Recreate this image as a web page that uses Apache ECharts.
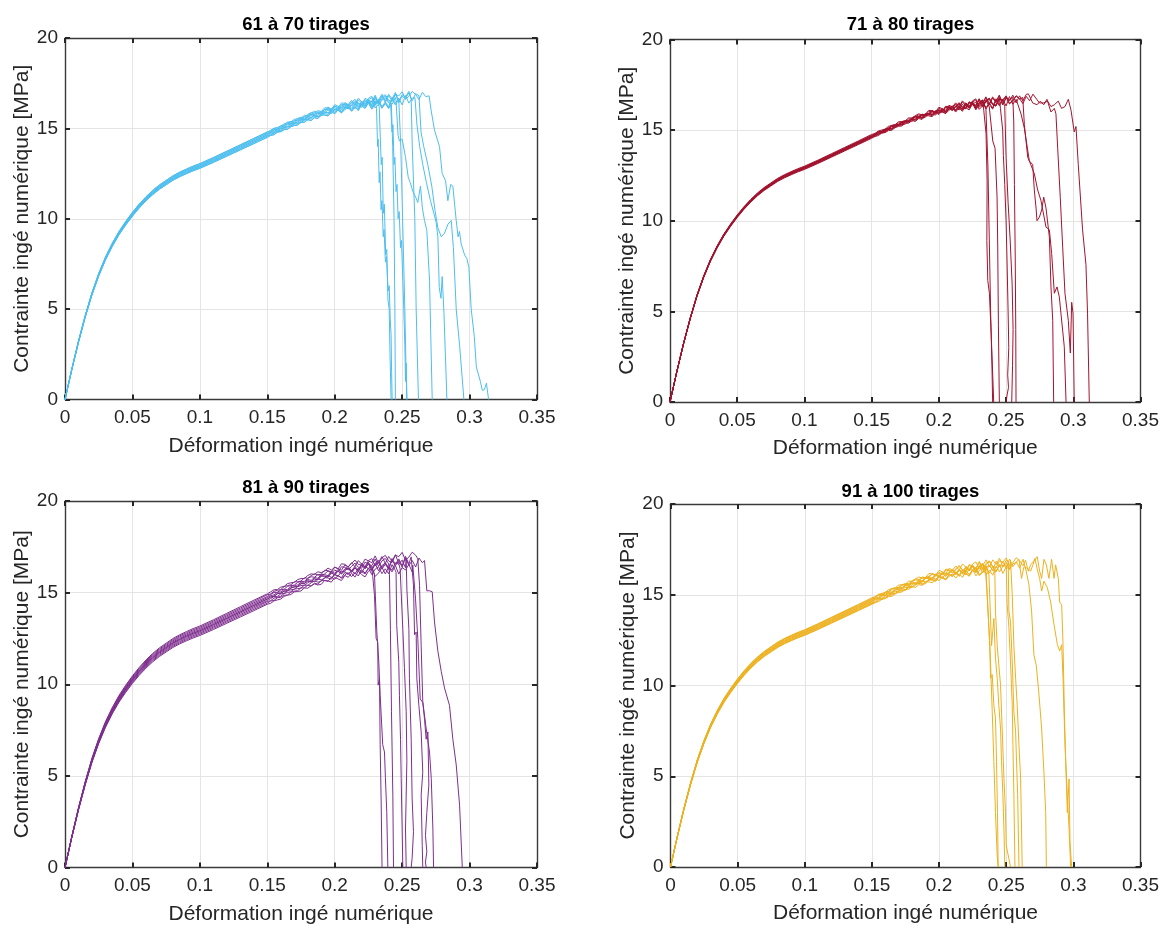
<!DOCTYPE html>
<html>
<head>
<meta charset="utf-8">
<title>Courbes contrainte-déformation</title>
<script src="https://cdn.jsdelivr.net/npm/echarts@6.0.0/dist/echarts.min.js"></script>
<style>
  html, body { margin: 0; padding: 0; background: #fff; }
  #chart { width: 1162px; height: 926px; }
</style>
</head>
<body>
<div id="chart"></div>
<script>
// axis ticks
const strainTicks = [0, 0.05, 0.1, 0.15, 0.2, 0.25, 0.3, 0.35]
const stressTicks = [0, 5, 10, 15, 20]

const panelTitles = ['61 à 70 tirages', '71 à 80 tirages', '81 à 90 tirages', '91 à 100 tirages']
const panelColors = ['#4DBEEE', '#A2142F', '#7E2F8E', '#EDB120']

// common rising part
const baseStrain = [0, 0.005, 0.01, 0.015, 0.02, 0.025, 0.03, 0.035, 0.04, 0.045, 0.05, 0.055, 0.06, 0.065, 0.07, 0.075, 0.08, 0.085, 0.09, 0.095, 0.1, 0.11, 0.12, 0.13, 0.14]
const baseStress = [0, 1.65, 3.2, 4.6, 5.85, 6.9, 7.8, 8.55, 9.2, 9.75, 10.25, 10.7, 11.1, 11.45, 11.75, 12.0, 12.25, 12.45, 12.62, 12.78, 12.92, 13.25, 13.6, 13.95, 14.3]

// plateau: mean trace + three read-off noise traces
const plateauStrain = [0.15, 0.1525, 0.155, 0.1575, 0.16, 0.1625, 0.165, 0.1675, 0.17, 0.1725, 0.175, 0.1775, 0.18, 0.1825, 0.185, 0.1875, 0.19, 0.1925, 0.195, 0.1975, 0.2, 0.2025, 0.205, 0.2075, 0.21, 0.2125, 0.215, 0.2175, 0.22, 0.2225, 0.225, 0.2275, 0.23, 0.2325, 0.235, 0.2375, 0.24, 0.2425, 0.245, 0.2475, 0.25, 0.2525, 0.255, 0.2575, 0.26, 0.2625, 0.265, 0.2675, 0.27, 0.2725, 0.275, 0.2775, 0.28, 0.2825, 0.285, 0.2875, 0.29, 0.2925, 0.295, 0.2975, 0.3]
const plateauStress = [14.65, 14.73, 14.82, 14.90, 14.98, 15.06, 15.14, 15.22, 15.30, 15.37, 15.44, 15.51, 15.58, 15.64, 15.71, 15.77, 15.83, 15.88, 15.93, 15.98, 16.03, 16.07, 16.12, 16.16, 16.20, 16.23, 16.27, 16.30, 16.33, 16.36, 16.38, 16.41, 16.43, 16.45, 16.48, 16.50, 16.52, 16.54, 16.56, 16.58, 16.60, 16.62, 16.63, 16.65, 16.66, 16.67, 16.68, 16.69, 16.70, 16.71, 16.71, 16.72, 16.72, 16.73, 16.73, 16.73, 16.73, 16.74, 16.74, 16.74, 16.74]
const noiseA = [0, 0.03, -0.02, 0.04, -0.01, 0.02, -0.04, 0.03, 0.01, -0.03, 0.05, -0.02, 0.06, -0.05, 0.04, -0.07, 0.08, 0.02, -0.08, 0.10, -0.06, 0.12, -0.10, 0.05, 0.14, -0.12, 0.08, -0.15, 0.18, -0.05, 0.20, -0.18, 0.10, 0.22, -0.20, 0.05, -0.25, 0.24, -0.10, 0.18, -0.22, 0.28, -0.15, 0.10, -0.26, 0.22, -0.05, 0.25, -0.20, 0.15, -0.18, 0.20, -0.10, 0.22, -0.20, 0.12, -0.15, 0.20, -0.18, 0.10, -0.12]
const noiseB = [0.01, -0.02, 0.03, 0, -0.03, 0.04, 0.02, -0.02, 0.05, 0, -0.04, 0.06, -0.03, 0.05, 0.08, -0.04, -0.06, 0.10, 0.03, -0.09, 0.12, 0, -0.14, 0.10, -0.04, 0.16, -0.10, 0.20, -0.02, -0.18, 0.12, 0.20, -0.22, -0.05, 0.24, -0.15, 0.20, -0.08, 0.26, -0.24, 0.10, -0.05, 0.25, -0.20, 0.18, -0.10, 0.24, -0.22, 0.08, -0.18, 0.22, -0.05, 0.18, -0.20, 0.10, 0.20, -0.10, -0.20, 0.15, -0.05, 0.12]
const noiseC = [-0.01, 0.02, 0.04, -0.03, 0.02, -0.02, 0.05, 0.01, -0.04, 0.03, 0.02, -0.05, 0.04, 0.07, -0.03, 0.05, -0.05, -0.02, 0.09, -0.07, 0.04, -0.10, 0.13, 0.06, -0.12, 0.03, 0.18, -0.08, -0.16, 0.14, 0.02, -0.10, 0.24, -0.18, 0.08, 0.20, -0.12, -0.22, 0.15, 0.05, 0.26, -0.18, -0.02, 0.22, 0.05, -0.24, 0.15, -0.10, 0.25, -0.05, 0.10, -0.22, 0.20, 0.05, -0.15, -0.05, 0.22, 0, -0.20, 0.18, -0.10]

// per-curve spread of each panel
const k61 = [1.0, 0.995, 1.005, 0.99, 1.01, 1.0, 0.995, 1.005, 1.01, 0.99]
const k71 = [1.0, 0.996, 1.004, 0.993, 1.007, 1.0, 0.997, 1.003, 1.002, 0.998]
const k81 = [1.0, 0.99, 1.01, 0.985, 1.015, 0.995, 1.005, 0.98, 1.02, 1.0]
const k91 = [1.0, 0.993, 1.007, 0.988, 1.012, 0.996, 1.004, 0.99, 1.01, 1.0]

// failure parts [strain, stress]
const tails61 = [
  [[0.2310,16.1],[0.2318,14.0],[0.2322,14.4],[0.2330,12.0],[0.2336,12.6],[0.2344,10.5],[0.2350,11.0],[0.2360,9.0],[0.2366,9.4],[0.2376,7.6],[0.2384,7.9],[0.2396,6.0],[0.2404,6.3],[0.2412,4.4],[0.2418,3.6],[0.2422,1.5],[0.2426,0]],
  [[0.2330,16.2],[0.2345,13.0],[0.2352,13.4],[0.2360,10.3],[0.2368,10.8],[0.2378,8.0],[0.2386,8.3],[0.2395,5.5],[0.2404,5.0],[0.2410,2.5],[0.2418,0]],
  [[0.2420,16.4],[0.2430,14.0],[0.2440,10.0],[0.2446,5.0],[0.2450,0]],
  [[0.2415,16.3],[0.2425,14.8],[0.2432,15.2],[0.2440,13.0],[0.2446,13.4],[0.2455,11.5],[0.2462,11.9],[0.2470,10.0],[0.2478,10.4],[0.2488,8.4],[0.2495,8.8],[0.2505,6.6],[0.2512,5.0],[0.2520,3.0],[0.2525,1.0],[0.2530,2.0],[0.2535,0]],
  [[0.2567,16.6],[0.2575,14.0],[0.2594,10.0],[0.2604,5.0],[0.2621,0]],
  [[0.2455,16.5],[0.2470,14.6],[0.2480,14.3],[0.2500,14.4],[0.2525,13.4],[0.2545,12.3],[0.2560,12.0],[0.2580,11.5],[0.2600,11.2],[0.2616,10.9],[0.2636,11.8],[0.2650,10.6],[0.2666,9.9],[0.2683,9.35],[0.2703,6.6],[0.2723,0]],
  [[0.2595,16.7],[0.2610,15.2],[0.2630,14.0],[0.2653,13.0],[0.2680,12.0],[0.2710,11.0],[0.2735,10.3],[0.2752,9.8],[0.2765,9.0],[0.2775,6.2],[0.2788,5.6],[0.2797,6.8],[0.2810,4.8],[0.2832,0]],
  [[0.2625,16.8],[0.2640,14.8],[0.2660,14.0],[0.2690,13.0],[0.2720,11.8],[0.2745,10.4],[0.2765,9.5],[0.2790,9.0],[0.2814,9.2],[0.2840,9.7],[0.2864,9.9],[0.2880,8.4],[0.2901,5.0],[0.2926,3.0],[0.2958,0]],
  [[0.2700,16.8],[0.2715,16.0],[0.2740,14.9],[0.2777,14.0],[0.2797,12.5],[0.2822,12.1],[0.2839,11.0],[0.2850,10.9],[0.2860,11.9],[0.2876,11.8],[0.2901,9.9],[0.2915,9.0],[0.2925,9.3],[0.2938,8.6],[0.2963,8.0],[0.2980,7.8],[0.2995,7.3],[0.3012,5.0],[0.3035,3.5],[0.3050,1.8],[0.3080,1.0],[0.3095,0.5],[0.3110,0.55],[0.3125,0.9],[0.3141,0]],
  [[0.2478,16.6],[0.2490,14.0],[0.2500,11.0],[0.2510,8.0],[0.2520,5.0],[0.2528,2.0],[0.2535,0]]
]
const tails71 = [
  [[0.2334,16.1],[0.2351,14.8],[0.2359,12.2],[0.2357,8.9],[0.2364,6.7],[0.2376,6.0],[0.2389,3.8],[0.2408,0]],
  [[0.2384,16.2],[0.2401,14.4],[0.2418,14.0],[0.2433,11.3],[0.2438,8.55],[0.2443,4.2],[0.2450,0]],
  [[0.2458,16.2],[0.2475,15.0],[0.2480,13.6],[0.2490,12.0],[0.2500,10.0],[0.2508,7.5],[0.2515,5.0],[0.2520,3.0],[0.2512,1.5],[0.2518,0.8],[0.2508,0.4],[0.2500,0]],
  [[0.2490,16.3],[0.2500,13.5],[0.2515,11.0],[0.2530,9.0],[0.2545,6.5],[0.2552,4.0],[0.2548,2.0],[0.2542,0]],
  [[0.2550,16.8],[0.2557,15.5],[0.2562,12.0],[0.2568,8.0],[0.2572,4.0],[0.2574,0]],
  [[0.2624,16.8],[0.2636,15.3],[0.2661,13.5],[0.2673,13.3],[0.2698,13.1],[0.2710,11.7],[0.2723,10.7],[0.2730,10.0],[0.2748,10.2],[0.2765,10.6],[0.2780,11.3],[0.2797,10.7],[0.2822,9.1],[0.2834,6.35],[0.2847,4.5],[0.2854,0]],
  [[0.2587,16.6],[0.2611,15.9],[0.2636,15.1],[0.2673,13.3],[0.2710,12.6],[0.2735,11.7],[0.2760,11.1],[0.2797,9.65],[0.2822,9.5],[0.2839,8.2],[0.2859,6.0],[0.2879,6.35],[0.2896,5.8],[0.2908,4.9],[0.2933,3.05],[0.2946,0]],
  [[0.2666,17.0],[0.2698,16.5],[0.2730,16.4],[0.2755,16.6],[0.2780,16.4],[0.2804,16.7],[0.2834,16.0],[0.2859,16.2],[0.2871,15.9],[0.2884,14.0],[0.2903,11.3],[0.2921,8.55],[0.2938,6.0],[0.2963,4.5],[0.2978,2.7],[0.2988,5.5],[0.2998,4.9],[0.3007,0]],
  [[0.2710,16.9],[0.2748,16.5],[0.2780,16.5],[0.2809,16.6],[0.2834,16.3],[0.2859,16.4],[0.2888,16.6],[0.2913,16.2],[0.2938,16.3],[0.2963,16.7],[0.2983,16.1],[0.3007,14.9],[0.3020,15.2],[0.3037,13.1],[0.3069,9.5],[0.3094,7.6],[0.3106,4.9],[0.3119,0]],
  [[0.2350,16.2],[0.2365,13.0],[0.2375,9.0],[0.2385,5.0],[0.2395,2.0],[0.2400,0]]
]
const tails81 = [
  [[0.2282,15.9],[0.2295,14.85],[0.2307,12.5],[0.2319,12.3],[0.2322,9.95],[0.2332,10.3],[0.2337,6.7],[0.2344,3.8],[0.2351,0]],
  [[0.2295,16.0],[0.2312,12.9],[0.2327,11.2],[0.2337,9.4],[0.2356,6.7],[0.2369,6.3],[0.2376,4.9],[0.2386,3.0],[0.2394,0]],
  [[0.2406,16.0],[0.2413,13.0],[0.2421,8.5],[0.2431,3.95],[0.2436,0]],
  [[0.2455,16.1],[0.2460,13.2],[0.2475,11.2],[0.2480,9.4],[0.2488,7.0],[0.2493,4.85],[0.2500,2.1],[0.2505,0]],
  [[0.2485,16.3],[0.2505,13.0],[0.2517,10.9],[0.2530,8.5],[0.2535,5.8],[0.2525,2.1],[0.2530,0]],
  [[0.2530,16.85],[0.2535,15.2],[0.2550,13.0],[0.2554,10.3],[0.2567,7.0],[0.2574,3.8],[0.2584,1.95],[0.2574,0.5],[0.2567,0]],
  [[0.2567,16.95],[0.2584,15.4],[0.2592,12.7],[0.2604,12.85],[0.2609,10.3],[0.2624,8.85],[0.2641,7.4],[0.2653,5.2],[0.2641,3.95],[0.2649,1.2],[0.2653,0]],
  [[0.2579,16.5],[0.2599,14.7],[0.2616,12.5],[0.2634,9.2],[0.2653,9.0],[0.2666,8.1],[0.2678,7.0],[0.2691,7.4],[0.2698,4.5],[0.2683,3.0],[0.2673,1.75],[0.2683,0.85],[0.2673,0.3],[0.2678,0]],
  [[0.2616,16.85],[0.2629,15.4],[0.2641,12.1],[0.2653,9.05],[0.2678,7.6],[0.2703,6.3],[0.2716,4.85],[0.2728,2.1],[0.2733,0]],
  [[0.2666,16.75],[0.2683,15.1],[0.2703,15.1],[0.2723,15.05],[0.2740,13.4],[0.2765,11.8],[0.2790,10.7],[0.2814,9.8],[0.2851,8.85],[0.2876,7.0],[0.2901,5.6],[0.2926,3.4],[0.2946,0]]
]
const tails91 = [
  [[0.2351,16.1],[0.2366,13.9],[0.2378,12.2],[0.2383,10.4],[0.2396,10.6],[0.2408,8.9],[0.2420,8.2],[0.2428,5.8],[0.2435,3.0],[0.2440,0]],
  [[0.2371,16.1],[0.2391,12.2],[0.2408,13.7],[0.2420,11.5],[0.2433,10.4],[0.2445,8.9],[0.2458,7.6],[0.2465,5.8],[0.2475,4.0],[0.2483,2.1],[0.2490,0]],
  [[0.2415,16.3],[0.2420,14.1],[0.2433,12.2],[0.2458,10.0],[0.2470,7.6],[0.2483,4.9],[0.2495,3.0],[0.2500,1.2],[0.2520,0.45],[0.2532,0]],
  [[0.2500,16.65],[0.2507,14.45],[0.2520,13.2],[0.2532,11.3],[0.2545,8.9],[0.2550,6.7],[0.2557,4.0],[0.2565,0]],
  [[0.2515,16.85],[0.2520,14.1],[0.2532,13.5],[0.2545,11.3],[0.2557,8.55],[0.2570,7.45],[0.2577,5.8],[0.2585,4.0],[0.2595,0]],
  [[0.2532,16.9],[0.2545,15.0],[0.2557,12.2],[0.2570,10.4],[0.2582,8.9],[0.2595,6.7],[0.2607,4.9],[0.2614,2.1],[0.2619,0]],
  [[0.2632,16.9],[0.2649,16.3],[0.2669,15.55],[0.2689,14.1],[0.2706,11.7],[0.2724,11.1],[0.2744,9.5],[0.2764,7.6],[0.2781,5.2],[0.2794,3.0],[0.2799,0]],
  [[0.2570,16.75],[0.2595,16.95],[0.2614,15.9],[0.2632,16.55],[0.2657,16.45],[0.2682,16.3],[0.2699,16.65],[0.2714,17.0],[0.2731,16.4],[0.2749,15.9],[0.2764,15.2],[0.2781,15.75],[0.2806,15.4],[0.2831,14.6],[0.2856,13.35],[0.2881,12.25],[0.2898,11.9],[0.2913,12.25],[0.2923,10.4],[0.2938,6.7],[0.2955,3.95],[0.2968,2.1],[0.2980,0]],
  [[0.2644,16.9],[0.2664,16.3],[0.2682,16.65],[0.2706,16.85],[0.2731,17.1],[0.2749,16.3],[0.2764,15.9],[0.2781,16.95],[0.2799,16.65],[0.2818,15.9],[0.2838,16.95],[0.2856,15.9],[0.2868,16.65],[0.2881,16.65],[0.2888,15.9],[0.2898,14.6],[0.2913,14.45],[0.2923,12.25],[0.2933,8.55],[0.2943,5.8],[0.2955,3.0],[0.2968,4.85],[0.2975,1.4],[0.2987,0]],
  [[0.2346,16.3],[0.2358,15.0],[0.2371,13.15],[0.2383,11.3],[0.2396,8.55],[0.2408,5.8],[0.2420,3.0],[0.2433,0.6],[0.2440,0]]
]

const panelScales = [k61, k71, k81, k91]
const panelTails = [tails61, tails71, tails81, tails91]
const noiseTraces = [noiseA, noiseB, noiseC]

// grid boxes in px (left, top, width, height)
const boxes = [
  [65, 38, 472, 361.5],
  [670, 39.5, 471, 362.5],
  [65, 501, 472, 366.5],
  [670.5, 504, 470, 363]
]
const titleTops = [10, 10, 473, 477]

const ink = '#262626'
const font = "'Liberation Sans', Arial, Helvetica, sans-serif"

function buildCurve(k, noise, tail) {
  const cut = tail[0][0]
  const pts = []
  baseStrain.forEach((x, j) => pts.push([x, baseStress[j] * k]))
  plateauStrain.forEach((x, j) => {
    if (x < cut) pts.push([x, (plateauStress[j] + noise[j]) * k])
  })
  return pts.concat(tail)
}

const grid = []
const xAxis = []
const yAxis = []
const title = []
const series = []

const boxLine = { show: true, onZero: false, lineStyle: { color: '#3a3a3a', width: 1.4 } }
const inTicks = { show: true, inside: true, length: 5, lineStyle: { color: ink, width: 2 } }

boxes.forEach((b, g) => {
  grid.push({ left: b[0], top: b[1], width: b[2], height: b[3], show: false })
  title.push({
    text: panelTitles[g],
    left: b[0] + b[2] / 2,
    top: titleTops[g],
    textAlign: 'center',
    textStyle: { fontFamily: font, fontSize: 18.5, fontWeight: 'bold', color: '#000' }
  })
  const xBase = {
    type: 'value', gridIndex: g,
    min: strainTicks[0], max: strainTicks[strainTicks.length - 1], interval: 0.05
  }
  const yBase = {
    type: 'value', gridIndex: g,
    min: stressTicks[0], max: stressTicks[stressTicks.length - 1], interval: 5
  }
  xAxis.push(Object.assign({}, xBase, {
    position: 'bottom',
    name: 'Déformation ingé numérique',
    nameLocation: 'middle',
    nameGap: 36,
    nameTextStyle: { fontFamily: font, fontSize: 21, color: ink },
    axisLine: boxLine,
    axisTick: inTicks,
    axisLabel: {
      fontFamily: font, fontSize: 19, color: ink, margin: 9,
      showMinLabel: true, showMaxLabel: true,
      formatter: v => String(+v.toFixed(2))
    },
    splitLine: { show: true, lineStyle: { color: '#e4e4e4', width: 1 } }
  }))
  xAxis.push(Object.assign({}, xBase, {
    position: 'top',
    axisLine: boxLine,
    axisTick: inTicks,
    axisLabel: { show: false },
    splitLine: { show: false }
  }))
  yAxis.push(Object.assign({}, yBase, {
    position: 'left',
    name: 'Contrainte ingé numérique [MPa]',
    nameLocation: 'middle',
    nameGap: 31,
    nameTextStyle: { fontFamily: font, fontSize: 21, color: ink },
    axisLine: boxLine,
    axisTick: inTicks,
    axisLabel: { fontFamily: font, fontSize: 19, color: ink, margin: 7 },
    splitLine: { show: true, lineStyle: { color: '#e4e4e4', width: 1 } }
  }))
  yAxis.push(Object.assign({}, yBase, {
    position: 'right',
    axisLine: boxLine,
    axisTick: inTicks,
    axisLabel: { show: false },
    splitLine: { show: false }
  }))

  const scales = panelScales[g]
  panelTails[g].forEach((tail, i) => {
    series.push({
      type: 'line',
      xAxisIndex: 2 * g,
      yAxisIndex: 2 * g,
      data: buildCurve(scales[i], noiseTraces[i % 3], tail),
      showSymbol: false,
      symbol: 'none',
      silent: true,
      clip: true,
      lineStyle: { color: panelColors[g], width: 1 },
      emphasis: { disabled: true }
    })
  })
})

const chart = echarts.init(document.getElementById('chart'), null, { renderer: 'canvas' })
chart.setOption({
  animation: false,
  backgroundColor: '#fff',
  title,
  grid,
  xAxis,
  yAxis,
  series
})
</script>
</body>
</html>
